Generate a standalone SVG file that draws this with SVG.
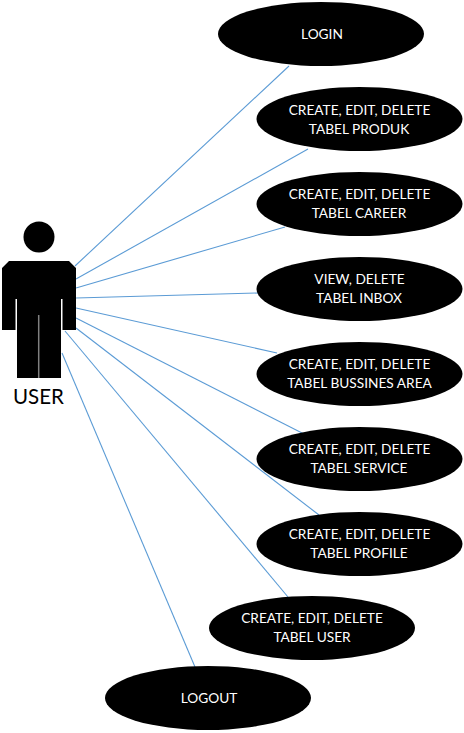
<svg xmlns="http://www.w3.org/2000/svg" width="464" height="733" viewBox="0 0 464 733">
<style>
.uc{fill:#000}
.t{font-family:"Lato","Carlito","Liberation Sans",sans-serif;font-size:13.700px;fill:#fff;text-anchor:middle}
.c{stroke:#5b9bd5;stroke-width:1.100;fill:none}
</style>
<rect width="464" height="733" fill="#fff"/>
<g id="connectors">
<line class="c" x1="75" y1="266" x2="289" y2="66"/>
<line class="c" x1="76" y1="279" x2="308" y2="149"/>
<line class="c" x1="76" y1="288" x2="285" y2="227"/>
<line class="c" x1="76" y1="298" x2="258" y2="293"/>
<line class="c" x1="76" y1="308" x2="277" y2="353"/>
<line class="c" x1="76" y1="318" x2="304" y2="434"/>
<line class="c" x1="76" y1="328" x2="319" y2="515"/>
<line class="c" x1="65" y1="331" x2="288" y2="597"/>
<line class="c" x1="62" y1="353" x2="195" y2="667"/>
</g>
<g id="user">
<circle cx="39" cy="237" r="15.500" fill="#000"/>
<path fill="#000" d="M2 268L9 261H69L76 268V330H62.500V299H61V378H17V299H15.500V330H2Z"/>
<line x1="38.700" y1="315" x2="38.700" y2="378" stroke="#808080" stroke-width="1.500"/>
<text x="38.500" y="404" font-family="Lato,Carlito,'Liberation Sans',sans-serif" font-size="20.500" fill="#000" text-anchor="middle">USER</text>
</g>
<g id="login"><ellipse class="uc" cx="321" cy="34" rx="103" ry="32"/><text class="t" x="322" y="38.500">LOGIN</text></g>
<g id="produk"><ellipse class="uc" cx="359.500" cy="119" rx="103" ry="32"/><text class="t" x="359.500" y="115">CREATE, EDIT, DELETE</text><text class="t" x="359" y="134">TABEL PRODUK</text></g>
<g id="career"><ellipse class="uc" cx="359.500" cy="204" rx="103" ry="32"/><text class="t" x="359.500" y="199">CREATE, EDIT, DELETE</text><text class="t" x="359" y="218">TABEL CAREER</text></g>
<g id="inbox"><ellipse class="uc" cx="359.500" cy="289" rx="103" ry="32"/><text class="t" x="359.500" y="284">VIEW, DELETE</text><text class="t" x="359" y="303">TABEL INBOX</text></g>
<g id="bussines"><ellipse class="uc" cx="359.500" cy="374" rx="103" ry="32"/><text class="t" x="359.500" y="369">CREATE, EDIT, DELETE</text><text class="t" x="359.500" y="388">TABEL BUSSINES AREA</text></g>
<g id="service"><ellipse class="uc" cx="359.500" cy="459" rx="103" ry="32"/><text class="t" x="359.500" y="454">CREATE, EDIT, DELETE</text><text class="t" x="359" y="473">TABEL SERVICE</text></g>
<g id="profile"><ellipse class="uc" cx="359.500" cy="544" rx="103" ry="32"/><text class="t" x="359.500" y="539">CREATE, EDIT, DELETE</text><text class="t" x="359" y="558">TABEL PROFILE</text></g>
<g id="tabeluser"><ellipse class="uc" cx="312" cy="628" rx="103" ry="32"/><text class="t" x="312" y="623">CREATE, EDIT, DELETE</text><text class="t" x="312" y="642">TABEL USER</text></g>
<g id="logout"><ellipse class="uc" cx="208" cy="698" rx="103" ry="32"/><text class="t" x="209" y="703">LOGOUT</text></g>
</svg>
